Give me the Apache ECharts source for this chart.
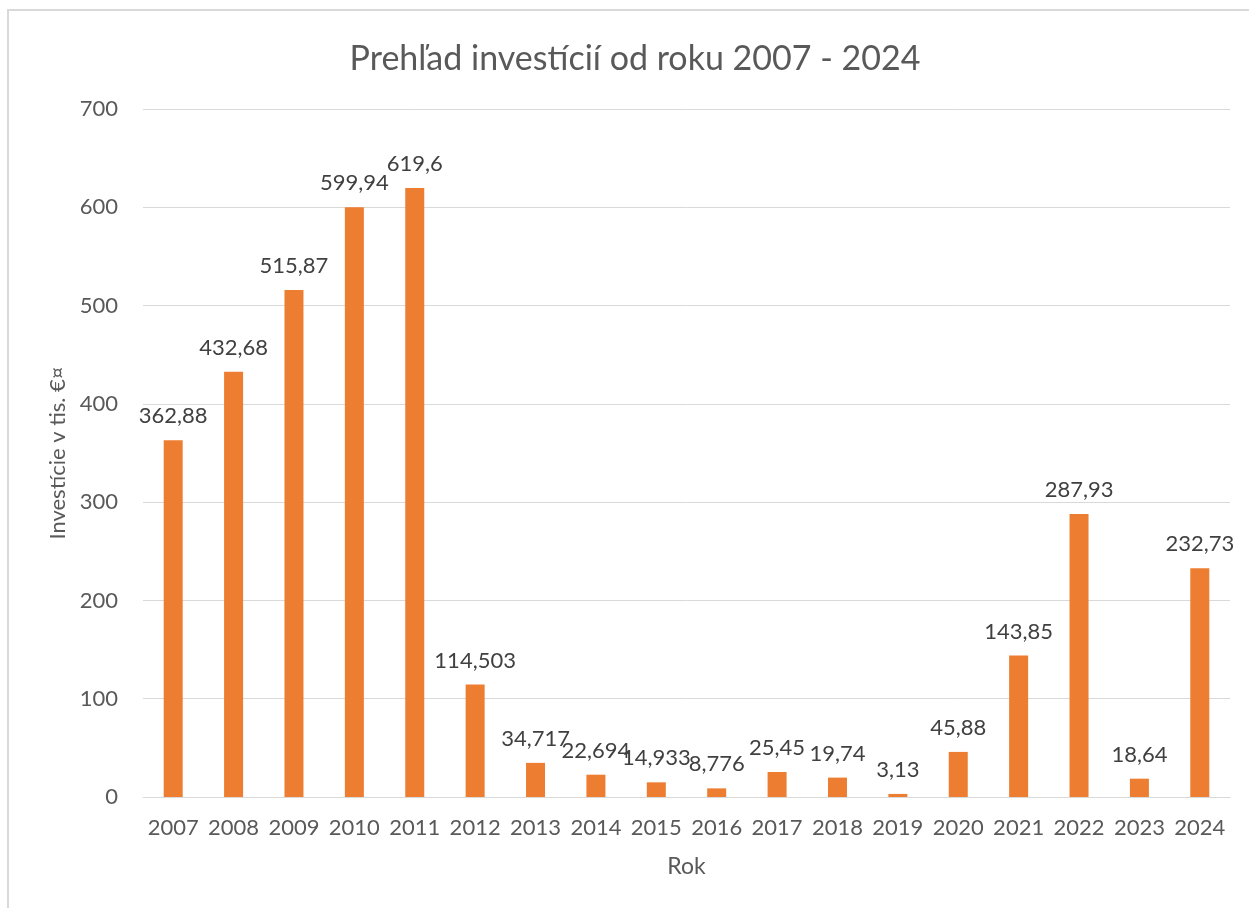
<!DOCTYPE html>
<html>
<head>
<meta charset="utf-8">
<title>Prehľad investícií</title>
<script src="https://cdn.jsdelivr.net/npm/echarts@6/dist/echarts.min.js"></script>
<style>
    html, body { margin: 0; padding: 0; background: #fff; }
    #chart { width: 1249px; height: 908px; }
</style>
</head>
<body>
<div id="chart"></div>
<script>
    // roky a investície (tis. €)
    var years = ['2007', '2008', '2009', '2010', '2011', '2012', '2013', '2014', '2015',
        '2016', '2017', '2018', '2019', '2020', '2021', '2022', '2023', '2024'];
    var investments = [362.88, 432.68, 515.87, 599.94, 619.6, 114.503, 34.717, 22.694, 14.933,
        8.776, 25.45, 19.74, 3.13, 45.88, 143.85, 287.93, 18.64, 232.73];
    var yTicks = [0, 100, 200, 300, 400, 500, 600, 700];

    var font = 'Lato, "Open Sans", sans-serif';
    var chart = echarts.init(document.getElementById('chart'));

    var option = {
        animation: false,
        textStyle: { fontFamily: font },
        title: {
            text: 'Prehľad investícií od roku 2007 - 2024',
            left: 630,
            textAlign: 'center',
            top: 37,
            textStyle: { fontFamily: font, fontSize: 34, fontWeight: 'normal', color: '#595959' }
        },
        graphic: [{
            type: 'rect',
            shape: { x: 8, y: 10, width: 1300, height: 1000 },
            style: { fill: 'none', stroke: '#d9d9d9', lineWidth: 2 },
            silent: true
        }],
        grid: { left: 143, right: 19, top: 109, bottom: 111 },
        xAxis: {
            type: 'category',
            data: years,
            name: 'Rok',
            nameLocation: 'middle',
            nameGap: 58,
            nameTextStyle: { fontFamily: font, fontSize: 23, color: '#595959' },
            axisLine: { lineStyle: { color: '#d9d9d9', width: 1 } },
            axisTick: { show: false },
            axisLabel: { fontFamily: font, fontSize: 22, color: '#595959', margin: 20, interval: 0 }
        },
        yAxis: {
            type: 'value',
            min: yTicks[0],
            max: yTicks[yTicks.length - 1],
            interval: 100,
            name: 'Investície v tis. €¤',
            nameLocation: 'middle',
            nameGap: 71,
            nameTextStyle: { fontFamily: font, fontSize: 22, color: '#595959' },
            axisLine: { show: false },
            axisTick: { show: false },
            splitLine: { lineStyle: { color: '#d9d9d9', width: 1 } },
            axisLabel: { fontFamily: font, fontSize: 22, color: '#595959', margin: 25 }
        },
        series: [{
            type: 'bar',
            data: investments,
            barWidth: 19,
            itemStyle: { color: '#ED7D31' },
            label: {
                show: true,
                position: 'top',
                distance: 13,
                fontFamily: font,
                fontSize: 22,
                color: '#404040',
                formatter: function (p) {
                    return String(p.value).replace('.', ',');
                }
            }
        }]
    };
    chart.setOption(option);
</script>
</body>
</html>
